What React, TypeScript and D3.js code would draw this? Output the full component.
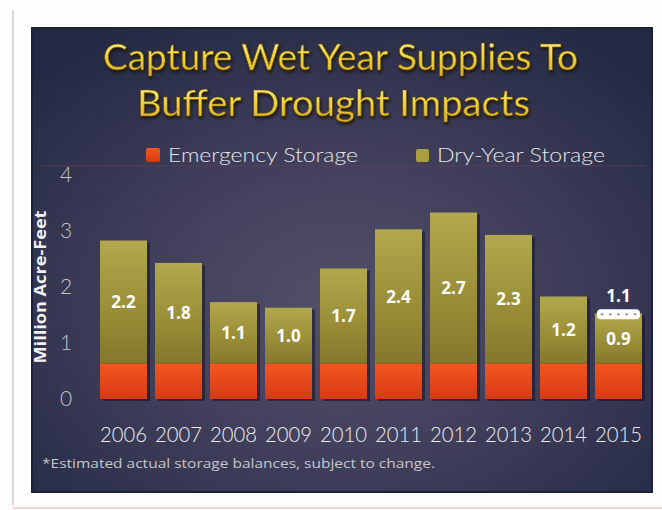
import React from "react";
import * as d3 from "d3";

const years = ["2006", "2007", "2008", "2009", "2010", "2011", "2012", "2013", "2014", "2015"];
const emergency = [0.63, 0.63, 0.63, 0.63, 0.63, 0.63, 0.63, 0.63, 0.63, 0.63];
const dryYear = [2.2, 1.8, 1.1, 1.0, 1.7, 2.4, 2.7, 2.3, 1.2, 0.9];
const estimated2015 = 1.1;
const yTicks = [0, 1, 2, 3, 4];
const titleLines = ["Capture Wet Year Supplies  To", "Buffer Drought Impacts"];
const legendLabels = ["Emergency Storage", "Dry-Year Storage"];
const footnote = "*Estimated actual storage balances, subject to change.";

export default function App() {
  const W = 662, H = 510;
  const x = d3.scaleBand<string>().domain(years).range([100, 642]).paddingInner(0.145).paddingOuter(0);
  const y = d3.scaleLinear().domain([0, 4]).range([399, 175]);
  const bw = x.bandwidth();
  const font = "Lato, 'Open Sans', sans-serif";

  return (
    <svg width={W} height={H} style={{ position: "absolute", left: 0, top: 0 }}>
      <defs>
        <radialGradient id="bg" cx="0.5" cy="0.6" r="0.7">
          <stop offset="0" stopColor="#54506a" />
          <stop offset="0.55" stopColor="#3d3c58" />
          <stop offset="1" stopColor="#232944" />
        </radialGradient>
        <linearGradient id="red" x1="0" y1="0" x2="0" y2="1">
          <stop offset="0" stopColor="#f4561f" />
          <stop offset="1" stopColor="#d63a14" />
        </linearGradient>
        <linearGradient id="olive" x1="0" y1="0" x2="0" y2="1">
          <stop offset="0" stopColor="#b2a84c" />
          <stop offset="0.55" stopColor="#9a8f38" />
          <stop offset="1" stopColor="#83782a" />
        </linearGradient>
        <linearGradient id="title" x1="0" y1="0" x2="0" y2="1">
          <stop offset="0" stopColor="#fff0a0" />
          <stop offset="0.5" stopColor="#f2d63a" />
          <stop offset="1" stopColor="#d9aa22" />
        </linearGradient>
        <filter id="glow" x="-5%" y="-20%" width="110%" height="140%">
          <feGaussianBlur in="SourceAlpha" stdDeviation="1.5" />
          <feOffset dx="1" dy="2" result="b" />
          <feFlood floodColor="#1a1408" />
          <feComposite in2="b" operator="in" />
          <feMerge>
            <feMergeNode />
            <feMergeNode in="SourceGraphic" />
          </feMerge>
        </filter>
      </defs>
      <rect x={0} y={0} width={W} height={H} fill="#fdfdfd" />
      <line x1={13} y1={10} x2={13} y2={505} stroke="#d8d8dc" strokeWidth={2} />
      <line x1={13} y1={508} x2={662} y2={508} stroke="#f0d4d4" strokeWidth={2} />
      <rect x={32} y={28} width={620} height={464} fill="url(#bg)" />
      <rect x={32} y={28} width={620} height={464} fill="none" stroke="#1e2238" strokeWidth={2} />

      {titleLines.map((t, i) => (
        <text
          key={t}
          x={i === 0 ? 103 : 137}
          y={i === 0 ? 70 : 116}
          fontFamily={font}
          fontSize={36}
          fill="url(#title)"
          stroke="#6a5010"
          strokeWidth={0.6}
          filter="url(#glow)"
          textLength={i === 0 ? 475 : 393}
          lengthAdjust="spacingAndGlyphs"
        >
          {t}
        </text>
      ))}

      <line x1={40} y1={166} x2={645} y2={166} stroke="#6a4050" strokeOpacity={0.35} strokeWidth={2} />
      <rect x={146} y={148} width={14} height={14} fill="url(#red)" rx={2} />
      <text x={168} y={162} fontFamily={font} fontWeight={300} fontSize={19} fill="#e6e6ea" textLength={190} lengthAdjust="spacingAndGlyphs">
        {legendLabels[0]}
      </text>
      <rect x={416} y={149} width={13} height={13} fill="#a8a040" rx={2} />
      <text x={437} y={162} fontFamily={font} fontWeight={300} fontSize={19} fill="#e6e6ea" textLength={168} lengthAdjust="spacingAndGlyphs">
        {legendLabels[1]}
      </text>

      {yTicks.map((t) => (
        <text key={t} x={66} y={y(t) + 7} textAnchor="middle" fontFamily={font} fontWeight={300} fontSize={21} fill="#c4c4cc">
          {t}
        </text>
      ))}
      <text
        transform={`translate(46,287) rotate(-90)`}
        textAnchor="middle"
        fontFamily="'Open Sans', sans-serif"
        fontWeight={700}
        fontSize={16}
        fill="#f2f2f2"
        textLength={153}
        lengthAdjust="spacingAndGlyphs"
      >
        Million Acre-Feet
      </text>

      {years.map((yr, i) => {
        const x0 = x(yr)!;
        const e = emergency[i];
        const d = dryYear[i];
        const top = y(e + d);
        const mid = y(e + d / 2);
        return (
          <g key={yr}>
            <rect x={x0 + 3} y={top + 2} width={bw} height={y(0) - top} fill="#15172a" opacity={0.6} />
            <rect x={x0} y={top} width={bw} height={y(e) - top} fill="url(#olive)" />
            <rect x={x0} y={y(e)} width={bw} height={y(0) - y(e)} fill="url(#red)" />
            <text x={x0 + bw / 2} y={mid + 6} textAnchor="middle" fontFamily="'Open Sans', sans-serif" fontWeight={700} fontSize={17} fill="#ffffff">
              {d.toFixed(1)}
            </text>
            <text x={x0 + bw / 2} y={442} textAnchor="middle" fontFamily={font} fontWeight={300} fontSize={21} fill="#ececf0" textLength={47} lengthAdjust="spacingAndGlyphs">
              {yr}
            </text>
            {yr === "2015" && (
              <g>
                <rect x={x0 + 2} y={top - 4} width={bw - 4} height={10} rx={4} fill="#ffffff" />
                {[0, 1, 2, 3, 4].map((k) => (
                  <circle key={k} cx={x0 + 7 + k * ((bw - 14) / 4)} cy={top + 1} r={1.3} fill="#9a9a9a" />
                ))}
                <text x={x0 + bw / 2} y={top - 11} textAnchor="middle" fontFamily="'Open Sans', sans-serif" fontWeight={700} fontSize={17} fill="#ffffff">
                  {estimated2015.toFixed(1)}
                </text>
              </g>
            )}
          </g>
        );
      })}

      <text x={42} y={468} fontFamily="'Open Sans', sans-serif" fontSize={12} fill="#c6c6cc" textLength={393} lengthAdjust="spacingAndGlyphs">
        {footnote}
      </text>
    </svg>
  );
}
